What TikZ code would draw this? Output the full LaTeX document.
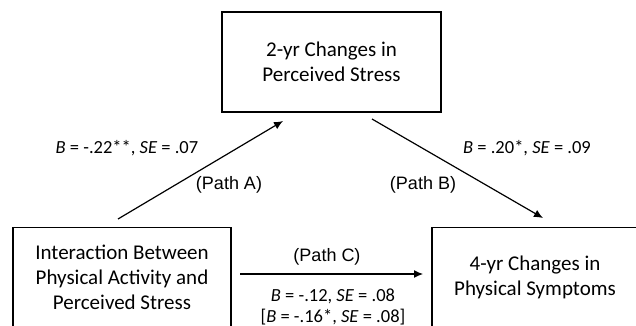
\documentclass[tikz,border=0pt]{standalone}
\usepackage{fontspec}
\setmainfont{Carlito}
\newfontfamily\arialfont{Liberation Sans}
\usetikzlibrary{arrows.meta}

\begin{document}
\begin{tikzpicture}[
    x=1pt, y=1pt,
    box/.style={rectangle, draw, line width=1.3pt, align=center, inner sep=0pt, font=\fontsize{21}{25}\selectfont},
    coef/.style={align=center, inner sep=0pt, font=\fontsize{18.5}{21}\selectfont},
    pathlab/.style={inner sep=0pt, font=\arialfont\fontsize{18}{21}\selectfont},
    path/.style={-{Latex[length=9pt,width=8pt]}, line width=1.2pt}
]
\useasboundingbox (0,0) rectangle (636,-326);

% Variables
\node[box, minimum width=219pt, minimum height=100pt] (stress) at (331.5,-62) {2-yr Changes in\\Perceived Stress};
\node[box, minimum width=218pt, minimum height=100pt] (inter) at (122,-277.5) {Interaction Between\\Physical Activity and\\Perceived Stress};
\node[box, minimum width=206pt, minimum height=100pt] (symp) at (535,-277.5) {4-yr Changes in\\Physical Symptoms};

% Arrow ends
\coordinate (a1) at (118,-219);
\coordinate (a2) at (283,-121);
\coordinate (b1) at (372,-119);
\coordinate (b2) at (543,-218);
\coordinate (c1) at (240,-274);
\coordinate (c2) at (423,-274);

% Paths
\draw[path] (a1) -- (a2);
\draw[path] (b1) -- (b2);
\draw[path] (c1) -- (c2);

% Coefficients
\node[coef] (coefA) at (127,-148) {\textit{B} = -.22**, \textit{SE} = .07};
\node[coef] (coefB) at (527,-148) {\textit{B} = .20*, \textit{SE} = .09};
\node[coef] (coefC) at (333,-306.5) {\textit{B} = -.12, \textit{SE} = .08\\{}[\textit{B} = -.16*, \textit{SE} = .08]};

% Path labels
\node[pathlab] (labA) at (229,-185) {(Path A)};
\node[pathlab] (labB) at (423,-185) {(Path B)};
\node[pathlab] (labC) at (327,-257) {(Path C)};

\end{tikzpicture}
\end{document}
